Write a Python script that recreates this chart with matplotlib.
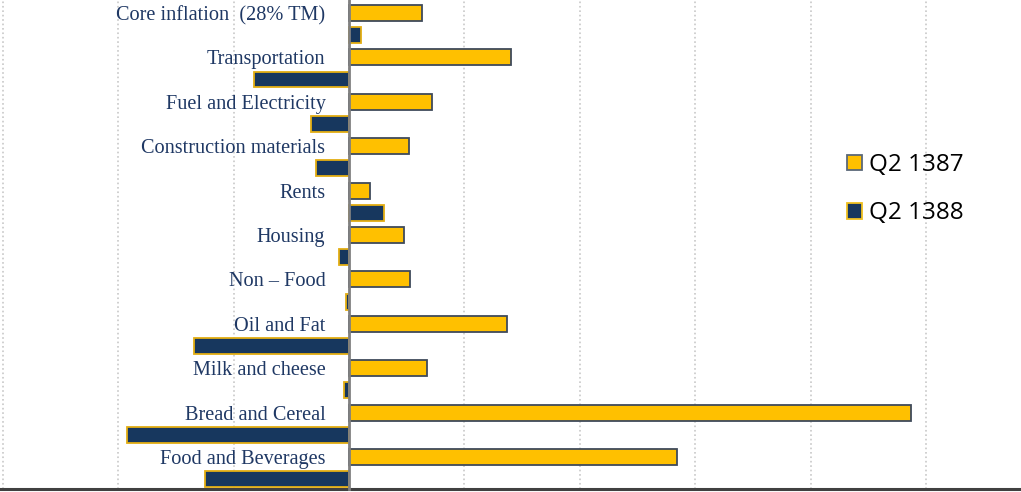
import matplotlib.pyplot as plt
import numpy as np
from matplotlib.patches import Patch

# categories from top to bottom
categorias = ["Core inflation  (28% TM)", "Transportation", "Fuel and Electricity",
              "Construction materials", "Rents", "Housing", "Non \u2013 Food",
              "Oil and Fat", "Milk and cheese", "Bread and Cereal", "Food and Beverages"]
q2_1387 = [6.3, 14.0, 7.2, 5.2, 1.8, 4.8, 5.3, 13.7, 6.8, 48.7, 28.4]
q2_1388 = [1.0, -8.2, -3.3, -2.9, 3.0, -0.9, -0.3, -13.4, -0.4, -19.2, -12.5]

amarelo = "#FFC000"
azul = "#17375E"

fig = plt.figure(figsize=(10.21, 4.92), dpi=100)
ax = fig.add_axes([0, 3 / 492, 1, 489 / 492])

n = len(categorias)
y = np.arange(n)[::-1]  # top category at the highest position
h = 0.36
off = 0.25

ax.barh(y + off, q2_1387, height=h, color=amarelo, edgecolor="#3F4A5A", linewidth=1.3,
        zorder=3)
ax.barh(y - off, q2_1388, height=h, color=azul, edgecolor="#E3AE12", linewidth=1.3,
        zorder=3)

ax.set_xlim(-30.24, 58.23)
ax.set_ylim(-0.47, n - 1 + 0.54)

ax.set_xticks(np.arange(-30, 60, 10))
ax.tick_params(axis="x", length=0, labelbottom=False)
ax.xaxis.grid(True, linestyle=":", color="#C8C8C8", linewidth=1.2, zorder=0)

# eixo vertical no zero com os rótulos das categorias
ax.spines["left"].set_position(("data", 0))
ax.spines["left"].set_color("#808080")
ax.spines["left"].set_linewidth(2)
ax.spines["left"].set_zorder(4)
ax.spines["top"].set_visible(False)
ax.spines["right"].set_visible(False)
ax.spines["bottom"].set_color("#404040")
ax.spines["bottom"].set_linewidth(2.2)

ax.set_yticks(y + off)
ax.set_yticklabels(categorias, family="Liberation Serif", fontsize=14.6, color="#1F3864")
ax.tick_params(axis="y", length=0, pad=17)

handles = [Patch(facecolor=amarelo, edgecolor="#5A6878", linewidth=1.3, label="Q2 1387"),
           Patch(facecolor=azul, edgecolor="#F0C020", linewidth=1.3, label="Q2 1388")]
fig.legend(handles=handles, loc="upper left", bbox_to_anchor=(0.8296, 0.689),
           frameon=False, prop={"family": "Open Sans", "size": 17.5},
           handlelength=0.62, handleheight=0.62, handletextpad=0.3,
           labelspacing=1.0, borderpad=0, borderaxespad=0)

fig.savefig("out.png", dpi=100)
